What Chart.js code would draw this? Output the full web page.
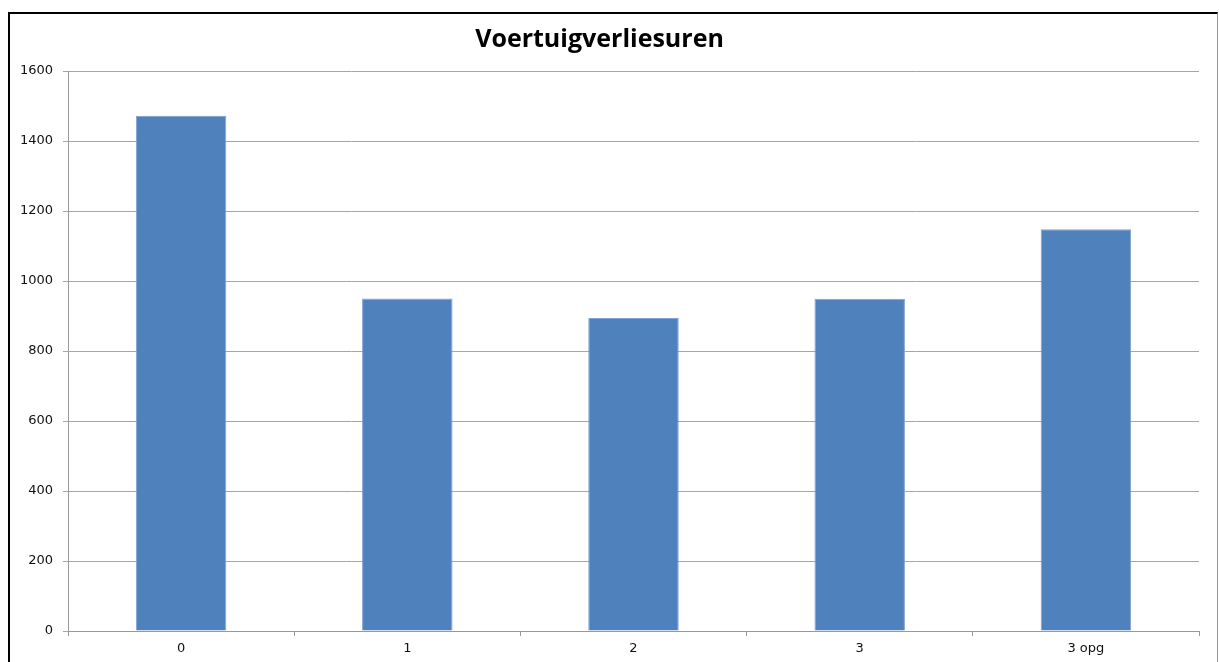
<!DOCTYPE html>
<html>
<head>
<meta charset="utf-8">
<script src="https://cdn.jsdelivr.net/npm/chart.js@4/dist/chart.umd.min.js"></script>
<style>
    body { margin: 0; background: #ffffff; }
    #wrap { position: absolute; left: 0; top: 0; width: 1219px; height: 662px; }
    #frame {
        position: absolute; left: 8px; top: 12px; width: 1207px; height: 660px;
        border-left: 2px solid #000; border-top: 2px solid #000; border-right: 1px solid #999;
        pointer-events: none;
    }
</style>
</head>
<body>
<div id="wrap">
    <canvas id="BarChart_verlies" width="1219" height="662"></canvas>
    <div id="frame"></div>
</div>
<script>
// data
let categories = ["0", "1", "2", "3", "3 opg"];
let values_verlies = [1472, 950, 894, 949, 1148];
let yTicks = [0, 200, 400, 600, 800, 1000, 1200, 1400, 1600];

let chartTitle = "Voertuigverliesuren";
let barColor = "#4F81BD";

function BarChart_verlies(labels, id, data) {
    const ctx = document.getElementById(id).getContext('2d');
    new Chart(ctx, {
        type: 'bar',
        data: {
            labels: labels,
            datasets: [{
                label: chartTitle,
                data: data,
                backgroundColor: barColor,
                borderColor: "#7FA3D3",
                borderWidth: 1,
                categoryPercentage: 0.4,
                barPercentage: 1.0
            }]
        },
        options: {
            responsive: false,
            animation: false,
            layout: { padding: { left: 0, right: 20, top: 0, bottom: 0 } },
            plugins: {
                legend: { display: false },
                tooltip: { enabled: false },
                title: {
                    display: true,
                    text: chartTitle,
                    color: "#000000",
                    font: { family: "'Open Sans'", size: 25, weight: 'bold', lineHeight: 1.2 },
                    padding: { top: 25, bottom: 16 }
                }
            },
            scales: {
                x: {
                    grid: {
                        offset: true,
                        drawOnChartArea: false,
                        drawTicks: true,
                        tickLength: 5,
                        color: "#999999"
                    },
                    border: { color: "#999999", width: 1 },
                    ticks: {
                        color: "#111111",
                        padding: 5,
                        font: { family: "'DejaVu Sans'", size: 13 }
                    },
                    afterFit: function(scale) { scale.height = 31; }
                },
                y: {
                    min: 0,
                    max: 1600,
                    afterBuildTicks: function(scale) {
                        scale.ticks = yTicks.map(function(v) { return { value: v }; });
                    },
                    grid: {
                        color: "#a6a6a6",
                        lineWidth: 1,
                        drawTicks: true,
                        tickLength: 5
                    },
                    border: { color: "#999999", width: 1 },
                    ticks: {
                        color: "#111111",
                        padding: 10,
                        font: { family: "'DejaVu Sans'", size: 13 },
                        callback: function(value) { return String(value); }
                    },
                    afterFit: function(scale) { scale.width = 68; }
                }
            }
        }
    });
}

BarChart_verlies(categories, "BarChart_verlies", values_verlies);
</script>
</body>
</html>
